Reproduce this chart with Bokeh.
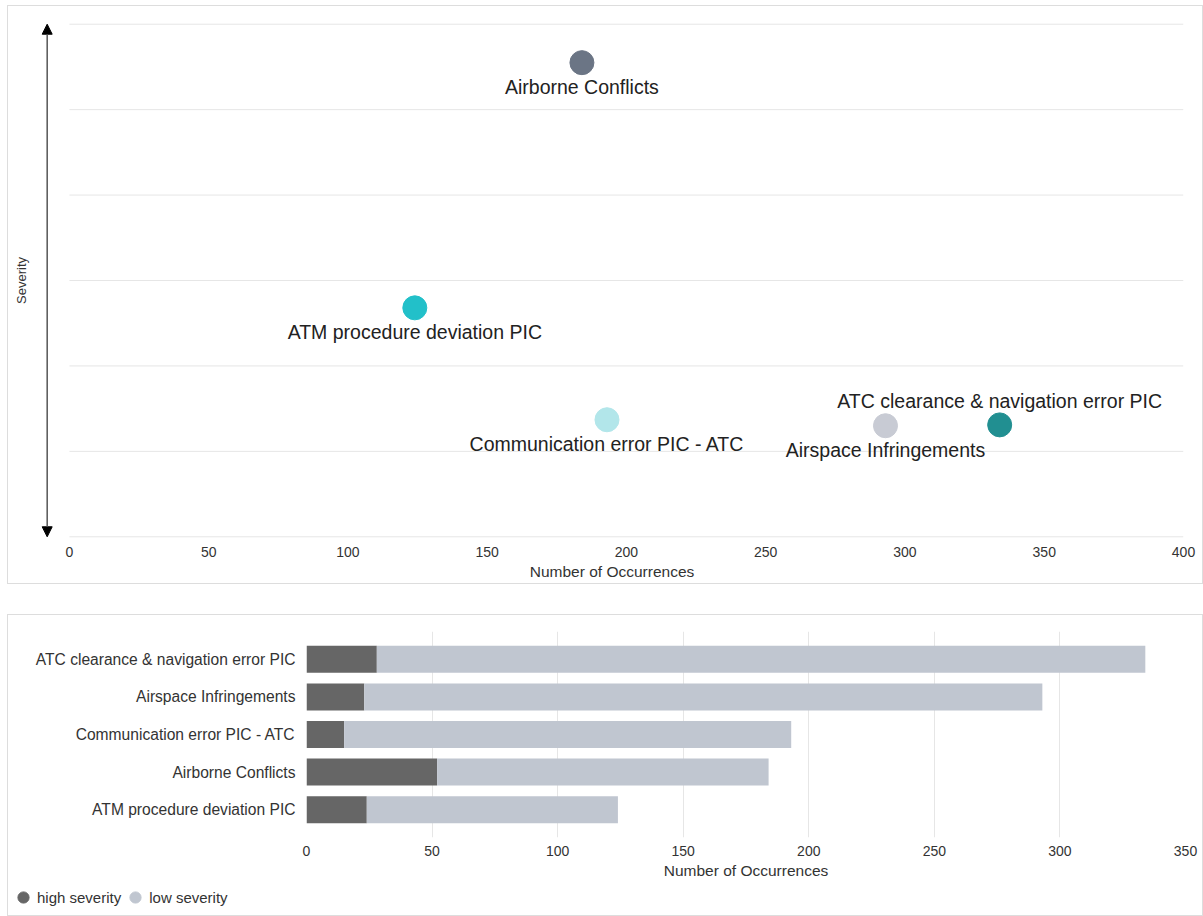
from bokeh.plotting import figure
from bokeh.models import (ColumnDataSource, Arrow, NormalHead, FixedTicker, Legend,
                          LegendItem, FactorRange, Range1d)
from bokeh.embed import file_html
from bokeh.resources import INLINE
from bokeh.core.properties import value

FONT = "Liberation Sans"

# ---------------- data ----------------
# scatter: occurrences vs. severity
scatter_categories = ["Airborne Conflicts", "ATM procedure deviation PIC",
                      "Communication error PIC - ATC", "Airspace Infringements",
                      "ATC clearance & navigation error PIC"]
scatter_occurrences = [184, 124, 193, 293, 334]
scatter_severity = [5.55, 2.68, 1.37, 1.30, 1.31]
scatter_colors = ["#6b7585", "#22c0c9", "#b2e6ea", "#c8cbd4", "#218f91"]
label_side = ["below", "below", "below", "below", "above"]

# stacked bars (listed bottom to top)
bar_categories = ["ATM procedure deviation PIC", "Airborne Conflicts",
                  "Communication error PIC - ATC", "Airspace Infringements",
                  "ATC clearance & navigation error PIC"]
high_severity = [24, 52, 15, 23, 28]
low_severity = [100, 132, 178, 270, 306]
series_names = ["high severity", "low severity"]
series_colors = ["#666666", "#c0c6d0"]

x_ticks_top = [0, 50, 100, 150, 200, 250, 300, 350, 400]
y_grid_top = [0, 1, 2, 3, 4, 5, 6]
x_ticks_bottom = [0, 50, 100, 150, 200, 250, 300, 350]


def style_x_axis(p):
    ax = p.xaxis
    ax.axis_line_color = None
    ax.major_tick_line_color = None
    ax.minor_tick_line_color = None
    ax.major_tick_out = 0
    ax.major_label_text_font = FONT
    ax.major_label_text_font_size = "14px"
    ax.major_label_text_color = "#333333"
    ax.major_label_standoff = 8
    ax.axis_label = "Number of Occurrences"
    ax.axis_label_text_font = FONT
    ax.axis_label_text_font_size = "15.5px"
    ax.axis_label_text_font_style = "normal"
    ax.axis_label_text_color = "#333333"
    ax.axis_label_standoff = 3


# ---------------- top: scatter ----------------
p1 = figure(width=1194, height=577,
            x_range=Range1d(-10.4, 400), y_range=Range1d(-0.02, 6.02),
            output_backend="svg", toolbar_location=None,
            min_border_left=32, min_border_right=19, min_border_top=16, min_border_bottom=45)
p1.margin = (6, 0, 0, 8)
p1.outline_line_color = None
p1.styles = {"outline": "1px solid #dddddd"}
p1.xgrid.visible = False
p1.ygrid.visible = False

p1.xaxis.ticker = FixedTicker(ticks=x_ticks_top)
style_x_axis(p1)

p1.yaxis.ticker = FixedTicker(ticks=[])
p1.yaxis.axis_line_color = None
p1.yaxis.major_tick_line_color = None
p1.yaxis.minor_tick_line_color = None
p1.yaxis.major_tick_out = 0
p1.yaxis.major_tick_in = 0
p1.yaxis.axis_label = "Severity"
p1.yaxis.axis_label_text_font = FONT
p1.yaxis.axis_label_text_font_size = "13px"
p1.yaxis.axis_label_text_font_style = "normal"
p1.yaxis.axis_label_text_color = "#333333"
p1.yaxis.axis_label_standoff = 12

# horizontal grid lines spanning only the plotted occurrence range
p1.segment(x0=x_ticks_top[0], x1=x_ticks_top[-1], y0=y_grid_top, y1=y_grid_top,
           line_color="#e6e6e6", line_width=1)

# severity double arrow at the left
arrow_x = -8
p1.add_layout(Arrow(start=NormalHead(size=10, fill_color="black", line_color="black"),
                    end=NormalHead(size=10, fill_color="black", line_color="black"),
                    x_start=arrow_x, y_start=y_grid_top[0], x_end=arrow_x, y_end=y_grid_top[-1],
                    line_color="#555555", line_width=1.5))

offsets = [24 if s == "below" else -24 for s in label_side]
src1 = ColumnDataSource(dict(x=scatter_occurrences, y=scatter_severity, name=scatter_categories,
                             color=scatter_colors, yoff=offsets))
p1.scatter(x="x", y="y", size=24, color="color", source=src1)
p1.text(x="x", y="y", text="name", y_offset="yoff", source=src1, text_align="center",
        text_baseline="middle", text_font=value(FONT), text_font_size="19.5px",
        text_color="#222222")

# ---------------- bottom: stacked bars ----------------
p2 = figure(width=1194, height=300, x_range=Range1d(0, 350),
            y_range=FactorRange(factors=bar_categories, range_padding=0.24,
                                range_padding_units="absolute"),
            output_backend="svg", toolbar_location=None,
            min_border_left=298, min_border_right=17, min_border_top=16, min_border_bottom=78)
p2.margin = (32, 0, 0, 8)
p2.outline_line_color = None
p2.styles = {"outline": "1px solid #dddddd"}

src2 = ColumnDataSource(dict(cat=bar_categories, high=high_severity, low=low_severity))
p2.hbar_stack(["high", "low"], y="cat", height=0.72, color=series_colors,
              line_color=None, source=src2)

p2.xaxis.ticker = FixedTicker(ticks=x_ticks_bottom)
style_x_axis(p2)

p2.yaxis.axis_line_color = None
p2.yaxis.major_tick_line_color = None
p2.yaxis.minor_tick_line_color = None
p2.yaxis.major_tick_out = 0
p2.yaxis.major_label_standoff = 11
p2.yaxis.major_label_text_font = FONT
p2.yaxis.major_label_text_font_size = "15.6px"
p2.yaxis.major_label_text_color = "#333333"

p2.ygrid.visible = False
p2.xgrid.grid_line_color = "#e6e6e6"

# ---------------- legend (small transparent strip over the bottom panel) ----------------
p3 = figure(width=300, height=28, x_range=Range1d(0, 1), y_range=Range1d(0, 1),
            output_backend="svg", toolbar_location=None, min_border=0)
p3.margin = (-32, 0, 0, 9)
p3.axis.visible = False
p3.grid.visible = False
p3.outline_line_color = None
p3.background_fill_alpha = 0
p3.border_fill_alpha = 0

nan = float("nan")
legend_renderers = [p3.scatter(x=[nan], y=[nan], color=c) for c in series_colors]
legend = Legend(items=[LegendItem(label=n, renderers=[r])
                       for n, r in zip(series_names, legend_renderers)],
                location="top_left", orientation="horizontal",
                glyph_width=28, glyph_height=28, label_standoff=0, spacing=0,
                padding=0, margin=0, border_line_color=None, background_fill_alpha=0,
                label_text_font=FONT, label_text_font_size="15px", label_text_color="#333333")
p3.add_layout(legend, "center")

open("out.html", "w").write(file_html([p1, p2, p3], INLINE))
